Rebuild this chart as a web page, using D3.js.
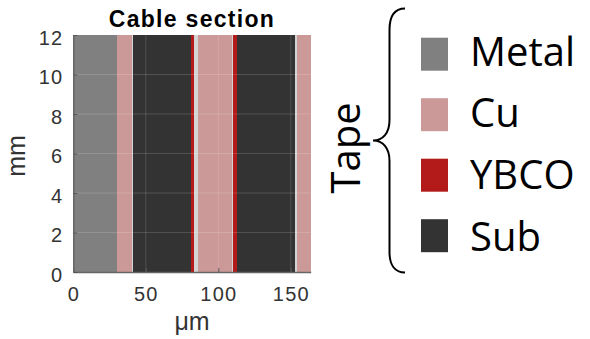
<!DOCTYPE html>
<html>
<head>
<meta charset="utf-8">
<script src="https://cdn.jsdelivr.net/npm/d3@7"></script>
<style>
  body { margin: 0; background: #fff; }
  svg { display: block; }
</style>
</head>
<body>
<div id="chart"></div>
<script>
// layers across the cable section, left to right (um)
var layerMat = ["Metal", "Cu", "Ag", "Sub", "YBCO", "Ag", "Cu", "Ag", "YBCO", "Sub", "Ag", "Cu"];
var layerX0  = [0, 30.3, 40.2, 41.4, 81.2, 83.5, 85.8, 109.2, 110.3, 112.8, 152.8, 154.2];
var layerX1  = [30.3, 40.2, 41.4, 81.2, 83.5, 85.8, 109.2, 110.3, 112.8, 152.8, 154.2, 163.7];
var heightMm = 12;

var xTicks = [0, 50, 100, 150];
var yTicks = [0, 2, 4, 6, 8, 10, 12];

var legendKeys = ["Metal", "Cu", "YBCO", "Sub"];
var matColor = { Metal: "#808080", Cu: "#cc9999", Ag: "#d4d4d4", YBCO: "#b31b1b", Sub: "#333333" };

var W = 590, H = 339;
var margin = { top: 35, left: 73.3, right: W - 310.7, bottom: H - 272 };
var pw = W - margin.left - margin.right,
    ph = H - margin.top - margin.bottom;

var svg = d3.select("#chart").append("svg")
    .attr("width", W)
    .attr("height", H);

var g = svg.append("g")
    .attr("transform", "translate(" + margin.left + "," + margin.top + ")");

var x = d3.scaleLinear().domain([0, 163.7]).range([0, pw]);
var y = d3.scaleLinear().domain([0, heightMm]).range([ph, 0]);

// layers
g.selectAll("rect.layer")
    .data(layerMat)
    .enter().append("rect")
    .attr("class", "layer")
    .attr("x", (d, i) => x(layerX0[i]))
    .attr("width", (d, i) => x(layerX1[i]) - x(layerX0[i]))
    .attr("y", y(heightMm))
    .attr("height", y(0) - y(heightMm))
    .attr("fill", d => matColor[d])
    .attr("shape-rendering", "crispEdges");

// grid
g.selectAll("line.gx")
    .data(xTicks.slice(1))
    .enter().append("line")
    .attr("x1", d => x(d)).attr("x2", d => x(d))
    .attr("y1", 0).attr("y2", ph)
    .attr("stroke", "#fff").attr("stroke-opacity", 0.15);

g.selectAll("line.gy")
    .data(yTicks.slice(1, -1))
    .enter().append("line")
    .attr("y1", d => y(d)).attr("y2", d => y(d))
    .attr("x1", 0).attr("x2", pw)
    .attr("stroke", "#fff").attr("stroke-opacity", 0.15);

// axes
var xAxis = d3.axisBottom(x).tickValues(xTicks).tickSizeInner(-4).tickSizeOuter(0).tickPadding(16);
var yAxis = d3.axisLeft(y).tickValues(yTicks).tickSizeInner(-4).tickSizeOuter(0).tickPadding(10);

var gx = g.append("g").attr("transform", "translate(0," + ph + ")").call(xAxis);
var gy = g.append("g").call(yAxis);

[gx, gy].forEach(function (a) {
    a.select(".domain").attr("stroke", "#666").attr("stroke-width", 1.5);
    a.selectAll(".tick line").attr("stroke", "#555");
    a.selectAll("text")
        .attr("font-family", "Liberation Sans")
        .attr("font-size", 20)
        .attr("letter-spacing", 1.2)
        .attr("fill", "#333");
});
gx.selectAll("text").attr("dy", "0.66em");
gy.selectAll("text").attr("dy", "0.45em");

// titles
svg.append("text")
    .attr("x", margin.left + pw / 2)
    .attr("y", 26.5)
    .attr("text-anchor", "middle")
    .attr("font-family", "Liberation Sans")
    .attr("font-weight", "bold")
    .attr("font-size", 23)
    .attr("letter-spacing", 1.3)
    .attr("fill", "#000")
    .text("Cable section");

svg.append("text")
    .attr("x", margin.left + pw / 2)
    .attr("y", 330)
    .attr("text-anchor", "middle")
    .attr("font-family", "Liberation Sans")
    .attr("font-size", 25)
    .attr("fill", "#333")
    .text("\u03bcm");

svg.append("text")
    .attr("transform", "translate(25," + 156 + ") rotate(-90)")
    .attr("text-anchor", "middle")
    .attr("font-family", "Liberation Sans")
    .attr("font-size", 25)
    .attr("fill", "#333")
    .text("mm");

// legend
var lg = svg.append("g");
lg.selectAll("rect")
    .data(legendKeys)
    .enter().append("rect")
    .attr("x", 421)
    .attr("y", (d, i) => 37.7 + i * 60.5)
    .attr("width", 27)
    .attr("height", 33)
    .attr("fill", d => matColor[d]);

lg.selectAll("text")
    .data(legendKeys)
    .enter().append("text")
    .attr("x", 470)
    .attr("y", (d, i) => 65.7 + i * 61.7)
    .attr("font-family", "Open Sans")
    .attr("font-size", 40)
    .attr("fill", "#000")
    .text(d => d);

// brace + "Tape"
svg.append("path")
    .attr("d", "M405,8.5 C395,8.5 389.5,16 389.5,30 L389.5,120 C389.5,133 383,140.5 373,140.5 " +
               "C383,140.5 389.5,148 389.5,161 L389.5,252 C389.5,265 395,272.5 405,272.5")
    .attr("fill", "none")
    .attr("stroke", "#000")
    .attr("stroke-width", 2);

svg.append("text")
    .attr("transform", "translate(360,148) rotate(-90)")
    .attr("text-anchor", "middle")
    .attr("font-family", "Open Sans")
    .attr("font-size", 40)
    .attr("fill", "#000")
    .text("Tape");
</script>
</body>
</html>
